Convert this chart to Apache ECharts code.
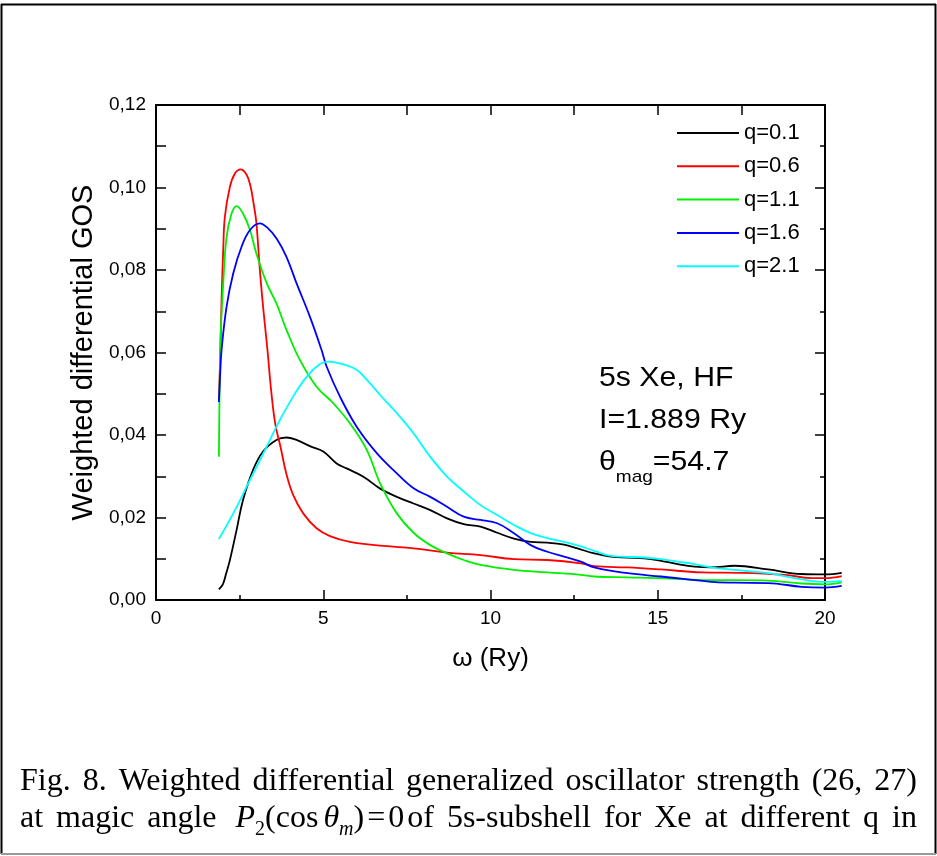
<!DOCTYPE html>
<html><head><meta charset="utf-8">
<script src="https://cdn.jsdelivr.net/npm/echarts/dist/echarts.min.js"></script>
<style>html,body{margin:0;padding:0;background:#fff}#c{width:937px;height:856px}</style>
</head><body><div id="c"></div>
<script>
// ---- data: [omega (Ry), weighted differential GOS] ----
const seriesNames = ['q=0.1','q=0.6','q=1.1','q=1.6','q=2.1'];
const seriesColors = ['#000000','#ff0000','#00f000','#0000ff','#00ffff'];
const q01 = [[1.88,0.0026],[1.95,0.0032],[2.01,0.004],[2.1,0.0065],[2.21,0.0097],[2.41,0.017],[2.6,0.0242],[2.9,0.0315],[3.2,0.036],[3.6,0.0388],[3.9,0.0394],[4.2,0.0388],[4.6,0.0373],[5.0,0.036],[5.4,0.0331],[5.7,0.0319],[6.2,0.0299],[6.7,0.027],[7.2,0.025],[7.7,0.0234],[8.2,0.0218],[8.7,0.0198],[9.2,0.0184],[9.7,0.0178],[10.2,0.0163],[10.7,0.0149],[11.2,0.0141],[11.7,0.0139],[12.2,0.0134],[12.6,0.0125],[13.1,0.0113],[13.6,0.0105],[14.1,0.0103],[14.6,0.0101],[15.1,0.0095],[15.6,0.0087],[16.1,0.0081],[16.6,0.0079],[17.3,0.0083],[18.3,0.0074],[19.3,0.0063],[20.0,0.0062],[20.5,0.0066]];
const q06 = [[1.88,0.048],[1.93,0.062],[1.96,0.0727],[2.01,0.085],[2.06,0.093],[2.21,0.1002],[2.36,0.1034],[2.53,0.1044],[2.7,0.1032],[2.82,0.1005],[2.92,0.096],[3.0,0.0915],[3.1,0.0805],[3.2,0.0712],[3.33,0.0608],[3.45,0.0502],[3.57,0.0425],[3.72,0.0372],[3.9,0.0305],[4.1,0.0255],[4.4,0.021],[4.8,0.0174],[5.2,0.0155],[5.8,0.0141],[6.8,0.0131],[7.7,0.0125],[8.7,0.0115],[9.7,0.0109],[10.7,0.0099],[11.7,0.0097],[12.7,0.0089],[13.1,0.0082],[14.1,0.0079],[15.1,0.0074],[16.3,0.0067],[17.5,0.0066],[18.8,0.0061],[19.6,0.0053],[20.0,0.0053],[20.5,0.0058]];
const q11 = [[1.88,0.0347],[1.9,0.05],[1.93,0.0638],[2.01,0.0768],[2.11,0.088],[2.26,0.0937],[2.41,0.0955],[2.6,0.0937],[2.81,0.0897],[3.0,0.084],[3.31,0.0768],[3.6,0.0719],[3.9,0.0655],[4.3,0.0582],[4.8,0.0517],[5.3,0.0477],[5.8,0.0428],[6.3,0.0364],[6.7,0.0283],[7.2,0.021],[7.7,0.0163],[8.2,0.0133],[8.7,0.0113],[9.2,0.0097],[9.7,0.0085],[10.7,0.0073],[11.7,0.0067],[12.7,0.0061],[13.1,0.0057],[14.1,0.0055],[15.1,0.0053],[16.6,0.0048],[17.3,0.0048],[18.3,0.0047],[19.3,0.004],[20.0,0.0038],[20.5,0.0043]];
const q16 = [[1.88,0.048],[1.92,0.055],[1.96,0.0606],[2.11,0.0711],[2.31,0.0792],[2.56,0.0857],[2.81,0.0897],[3.1,0.0913],[3.35,0.0901],[3.6,0.0877],[3.9,0.0832],[4.2,0.0768],[4.6,0.0687],[4.95,0.0606],[5.1,0.0566],[5.5,0.0493],[6.0,0.042],[6.6,0.0356],[7.2,0.0307],[7.7,0.0271],[8.2,0.025],[8.7,0.0226],[9.2,0.0202],[9.7,0.0194],[10.2,0.0186],[10.7,0.0162],[11.2,0.0133],[11.7,0.0117],[12.2,0.0105],[12.7,0.0093],[13.1,0.0079],[14.1,0.0065],[15.1,0.0057],[16.6,0.0044],[17.3,0.0042],[18.3,0.0041],[19.3,0.0032],[20.0,0.003],[20.5,0.0034]];
const q21 = [[1.88,0.0148],[2.31,0.021],[2.81,0.0291],[3.31,0.0372],[3.7,0.0436],[4.1,0.0493],[4.5,0.0541],[4.9,0.0572],[5.15,0.0578],[5.6,0.0571],[6.0,0.0558],[6.4,0.0525],[6.7,0.0497],[7.2,0.0453],[7.7,0.0404],[8.2,0.0347],[8.7,0.0299],[9.2,0.0263],[9.7,0.023],[10.2,0.0206],[10.7,0.0182],[11.2,0.0162],[11.7,0.015],[12.2,0.0141],[12.7,0.013],[13.1,0.0119],[13.6,0.0107],[14.6,0.0103],[15.1,0.0099],[15.6,0.0093],[16.1,0.0087],[16.6,0.0079],[17.3,0.0073],[18.3,0.0065],[19.3,0.005],[20.0,0.0044],[20.5,0.0046]];
const seriesData = [q01, q06, q11, q16, q21];

const xTicks = {min:0, max:20, interval:5};
const xDataMax = 20.5;   // curves run slightly past the frame
const yTicks = {min:0, max:0.12, interval:0.02};
const xAxisName = 'ω (Ry)';
const yAxisName = 'Weighted differential GOS';
const annotLines = ['5s Xe, HF', 'I=1.889 Ry'];
const captionLine1 = 'Fig. 8. Weighted differential generalized oscillator strength (26, 27)';

// ---- layout ----
const G = {left:156, top:105, width:669, height:495};
const G2width = G.width * xDataMax / xTicks.max;

// ---- text helpers ----
const mctx = document.createElement('canvas').getContext('2d');
function fontStr(p, fam){ return (p.it?'italic ':'') + p.size + 'px "' + fam + '"'; }
function measure(p, fam){ mctx.font = fontStr(p, fam); return mctx.measureText(p.t).width; }
function norm(p, defSize){ return Object.assign({size:defSize, dx:0, dy:0, it:false}, p); }
function wordWidth(word, fam, defSize, sx){ return word.reduce((s,p)=>{const q=norm(p,defSize);return s+(q.dx+measure(q,fam))*sx;},0); }
function pieceEls(word, x0, baseline, fam, defSize, sx){
  const els=[]; let x=x0;
  word.forEach(p=>{
    const q=norm(p,defSize);
    x += q.dx*sx;
    els.push({type:'text', x:x, y:baseline+q.dy-0.34*q.size, scaleX:sx, silent:true,
      style:{text:q.t, font:fontStr(q,fam), fill:'#000', align:'left', verticalAlign:'middle'}});
    x += measure(q,fam)*sx;
  });
  return els;
}
function justify(words, left, right, baseline, fam, defSize, sx){
  const widths = words.map(w=>wordWidth(w,fam,defSize,sx));
  const total = widths.reduce((a,b)=>a+b,0);
  const gap = (right-left-total)/(words.length-1);
  let x=left; let els=[];
  words.forEach((w,i)=>{ els = els.concat(pieceEls(w,x,baseline,fam,defSize,sx)); x += widths[i]+gap; });
  return els;
}

const SERIF='Liberation Serif', SANS='Liberation Sans';
const capSize=32, capSX=1.0;
const line1Words = captionLine1.split(' ').map(t=>[{t:t}]);
const line2Words = [
  [{t:'at'}],[{t:'magic'}],[{t:'angle'}],
  [{t:'P',it:true,dx:6},{t:'2',size:20,dy:8},{t:'(cos'},{t:'θ',it:true,dx:5},{t:'m',it:true,size:20,dy:8},{t:')'},{t:'=',dx:3},{t:'0',dx:3},{t:'of',dx:3}],
  [{t:'5s-subshell'}],[{t:'for'}],[{t:'Xe'}],[{t:'at'}],[{t:'different'}],[{t:'q'}],[{t:'in'}]
];

let graphics = [];
// outer frame
graphics.push({type:'line', silent:true, shape:{x1:1.5,y1:4,x2:1.5,y2:854}, style:{stroke:'#000',lineWidth:2}});
graphics.push({type:'line', silent:true, shape:{x1:1,y1:4.5,x2:936,y2:4.5}, style:{stroke:'#000',lineWidth:2}});
graphics.push({type:'line', silent:true, shape:{x1:935.5,y1:4,x2:935.5,y2:854}, style:{stroke:'#000',lineWidth:2}});
graphics.push({type:'line', silent:true, shape:{x1:1,y1:854,x2:936,y2:854}, style:{stroke:'#999',lineWidth:2}});
// annotation
const annSize=27, annSX=1.12;
graphics = graphics.concat(pieceEls([{t:annotLines[0]}],599,388,SANS,annSize,annSX));
graphics = graphics.concat(pieceEls([{t:annotLines[1]}],599,430,SANS,annSize,annSX));
graphics = graphics.concat(pieceEls([{t:'θ'},{t:'mag',size:17,dy:11},{t:'=54.7'}],599,472,SANS,annSize,annSX));
// caption
graphics = graphics.concat(justify(line1Words,20,917,792,SERIF,capSize,capSX));
graphics = graphics.concat(justify(line2Words,20,917,829,SERIF,capSize,capSX));

const axisLineStyle = {color:'#000', width:2};
const tickStyle = {color:'#000', width:1.5};
const fmtY = v => v.toFixed(2).replace('.', ',');

const chart = echarts.init(document.getElementById('c'), null, {renderer:'canvas'});
chart.setOption({
  animation:false,
  backgroundColor:'#fff',
  textStyle:{fontFamily:SANS},
  grid:[
    {left:G.left, top:G.top, width:G.width, height:G.height, containLabel:false},
    {left:G.left, top:G.top, width:G2width, height:G.height, containLabel:false}
  ],
  legend:{
    data:seriesNames, orient:'vertical', left:677, top:121, padding:0, itemGap:9.3,
    icon:'rect', itemWidth:62, itemHeight:2,
    textStyle:{fontSize:22, lineHeight:24, color:'#000', fontFamily:SANS}
  },
  xAxis:[
    {type:'value', gridIndex:0, position:'bottom', min:xTicks.min, max:xTicks.max, interval:xTicks.interval,
     name:xAxisName, nameLocation:'middle', nameGap:46, nameTextStyle:{fontSize:26, color:'#000', fontFamily:SANS},
     axisLine:{show:true, onZero:false, lineStyle:axisLineStyle},
     axisTick:{show:true, inside:true, length:10, lineStyle:tickStyle},
     minorTick:{show:true, splitNumber:2, length:5, lineStyle:tickStyle},
     axisLabel:{fontSize:19, color:'#000', margin:9, fontFamily:SANS},
     splitLine:{show:false}},
    {type:'value', gridIndex:0, position:'top', min:xTicks.min, max:xTicks.max, interval:xTicks.interval,
     axisLine:{show:true, onZero:false, lineStyle:axisLineStyle},
     axisTick:{show:true, inside:true, length:10, lineStyle:tickStyle},
     minorTick:{show:true, splitNumber:2, length:10, lineStyle:tickStyle},
     axisLabel:{show:false}, splitLine:{show:false}},
    {type:'value', gridIndex:1, min:xTicks.min, max:xDataMax, show:false}
  ],
  yAxis:[
    {type:'value', gridIndex:0, position:'left', min:yTicks.min, max:yTicks.max, interval:yTicks.interval,
     name:yAxisName, nameLocation:'middle', nameGap:54, nameRotate:90,
     nameTextStyle:{fontSize:29, color:'#000', fontFamily:SANS},
     axisLine:{show:true, onZero:false, lineStyle:axisLineStyle},
     axisTick:{show:true, inside:true, length:10, lineStyle:tickStyle},
     minorTick:{show:true, splitNumber:2, length:10, lineStyle:tickStyle},
     axisLabel:{fontSize:19, color:'#000', margin:10, formatter:fmtY, fontFamily:SANS},
     splitLine:{show:false}},
    {type:'value', gridIndex:0, position:'right', min:yTicks.min, max:yTicks.max, interval:yTicks.interval,
     axisLine:{show:true, onZero:false, lineStyle:axisLineStyle},
     axisTick:{show:true, inside:true, length:10, lineStyle:tickStyle},
     minorTick:{show:true, splitNumber:2, length:5, lineStyle:tickStyle},
     axisLabel:{show:false}, splitLine:{show:false}},
    {type:'value', gridIndex:1, min:yTicks.min, max:yTicks.max, show:false}
  ],
  series: seriesNames.map((n,i)=>({
    type:'line', name:n, data:seriesData[i], xAxisIndex:2, yAxisIndex:2,
    smooth:0.4, symbol:'none', showSymbol:false, clip:false,
    lineStyle:{color:seriesColors[i], width:1.8}, itemStyle:{color:seriesColors[i]}
  })),
  graphic: graphics
});
</script></body></html>
